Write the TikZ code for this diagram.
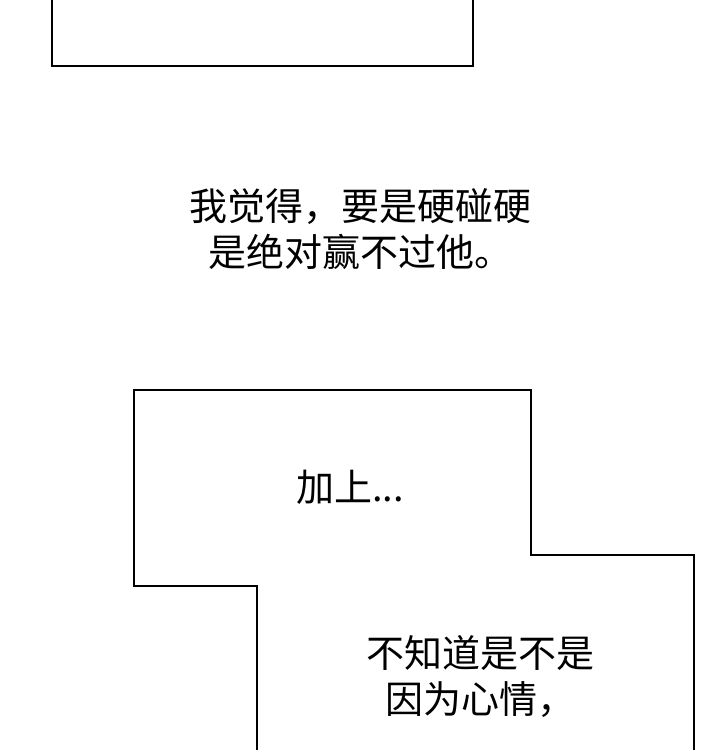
\documentclass[tikz,border=0pt]{standalone}
\usepackage{fontspec}
\newfontfamily\cjk{Noto Sans CJK SC}
\begin{document}
\begin{tikzpicture}[x=1pt,y=-1pt,
  panel/.style={draw=black,line width=1.6pt},
  speech/.style={font=\cjk\fontsize{38}{46}\selectfont,align=center,inner sep=0pt}]
\useasboundingbox (0,0) rectangle (720,750);
\fill[white] (0,0) rectangle (720,750);
\draw[panel] (52,-2) -- (52,66) -- (473,66) -- (473,-2);
\draw[panel] (257,752) -- (257,586) -- (134,586) -- (134,390) -- (531,390) -- (531,555) -- (694,555) -- (694,752);
\node[speech] (t1) at (360,229) {我觉得，要是硬碰硬\\是绝对赢不过他。};
\node[speech] (t2) at (350,487) {加上...};
\node[speech] (t3) at (480,676) {不知道是不是\\因为心情，};
\end{tikzpicture}
\end{document}
